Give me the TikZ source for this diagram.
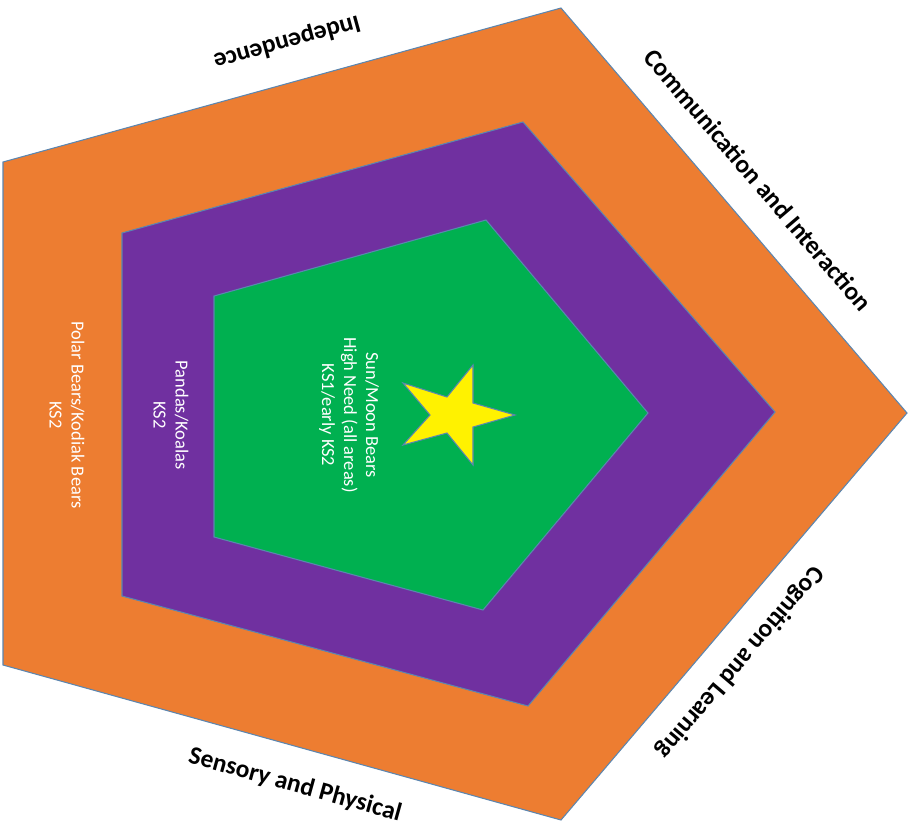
\documentclass[tikz,border=0pt]{standalone}
\usepackage{fontspec}
\setmainfont{Carlito}
\usepackage{tikz}

\definecolor{ringorange}{HTML}{ED7D31}
\definecolor{ringpurple}{HTML}{7030A0}
\definecolor{ringgreen}{HTML}{00B050}
\definecolor{rimblue}{HTML}{5B86B0}

\begin{document}
\begin{tikzpicture}[
        x=0.02cm, y=-0.02cm,
        ring/.style={draw=rimblue, line width=0.6pt, line join=miter},
        grouptext/.style={text=white, align=center, rotate=-90, font=\fontsize{10.5}{12.5}\selectfont, inner sep=0pt},
        areatext/.style={text=black, font=\bfseries\fontsize{14.5}{16}\selectfont, inner sep=0pt}
    ]
    \useasboundingbox (0,0) rectangle (912,829);

    % outer ring
    \coordinate (o1) at (561,8);
    \coordinate (o2) at (907,413);
    \coordinate (o3) at (561,820);
    \coordinate (o4) at (3,665);
    \coordinate (o5) at (3,162);
    \filldraw[ring, fill=ringorange] (o1) -- (o2) -- (o3) -- (o4) -- (o5) -- cycle;

    % middle ring
    \filldraw[ring, fill=ringpurple] (523,122) -- (775,412) -- (528,706) -- (122,596) -- (122,233) -- cycle;

    % inner ring
    \filldraw[ring, fill=ringgreen] (486,220) -- (648,413) -- (483,610) -- (214,537) -- (214,296) -- cycle;

    % star
    \filldraw[ring, fill=yellow] (515,415) -- (473,427) -- (473,465) -- (447,433) -- (403,445)
        -- (430,415) -- (403,383) -- (447,397) -- (473,365) -- (473,403) -- cycle;

    % groups
    \node[grouptext] (sun) at (349,415) {Sun/Moon Bears\\High Need (all areas)\\KS1/early KS2};
    \node[grouptext] (pandas) at (171,415) {Pandas/Koalas\\KS2};
    \node[grouptext] (polar) at (67,415) {Polar Bears/Kodiak Bears\\KS2};

    % areas
    \node[areatext, rotate=195.4] (indep) at (287,42) {Independence};
    \node[areatext, rotate=-49.5] (comm) at (758,180) {Communication and Interaction};
    \node[areatext, rotate=-130.4] (cog) at (740,662) {Cognition and Learning};
    \node[areatext, rotate=-15.5] (sens) at (295,785) {Sensory and Physical};
\end{tikzpicture}
\end{document}
